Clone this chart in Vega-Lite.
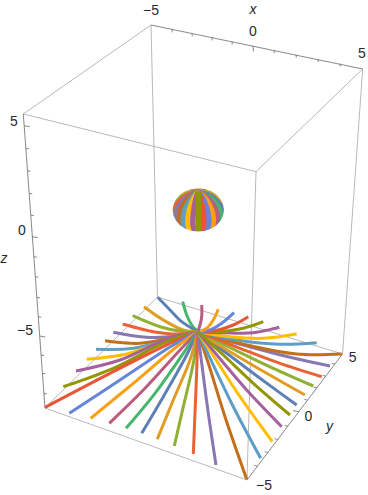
{
"$schema":"https://vega.github.io/schema/vega-lite/v6.json",
"width":368,"height":495,"padding":0,
"autosize":{"type":"fit","contains":"padding"},
"background":"white",
"view":{"stroke":null},
"datasets":{
"edges":[
{"h":151,"v":25,"h2":23.3,"v2":114},
{"h":23.3,"v":114,"h2":256,"v2":171.7},
{"h":256,"v":171.7,"h2":362.7,"v2":69},
{"h":151,"v":25,"h2":157.5,"v2":297},
{"h":362.7,"v":69,"h2":342.5,"v2":354},
{"h":256,"v":171.7,"h2":247,"v2":480},
{"h":45,"v":408,"h2":247,"v2":480},
{"h":342.5,"v":354,"h2":157.5,"v2":297},
{"h":157.5,"v":297,"h2":45,"v2":408}],
"axes":[
{"h":151,"v":25,"h2":362.7,"v2":69},
{"h":23.3,"v":114,"h2":45,"v2":408},
{"h":247,"v":480,"h2":342.5,"v2":354},
{"h":172,"v":29.3,"h2":172.3,"v2":32.3},
{"h":192,"v":33.4,"h2":192.3,"v2":36.4},
{"h":212,"v":37.4,"h2":212.3,"v2":40.4},
{"h":232,"v":41.5,"h2":232.3,"v2":44.5},
{"h":253,"v":45.8,"h2":253.5,"v2":51.5},
{"h":274,"v":50.1,"h2":274.3,"v2":53.1},
{"h":296,"v":54.6,"h2":296.3,"v2":57.6},
{"h":318,"v":59,"h2":318.3,"v2":62},
{"h":340,"v":63.5,"h2":340.3,"v2":66.5},
{"h":24.2,"v":125.7,"h2":29.7,"v2":126.7},
{"h":25.9,"v":148.3,"h2":28.9,"v2":148.9},
{"h":27.5,"v":170.7,"h2":30.5,"v2":171.3},
{"h":29.2,"v":193.3,"h2":32.2,"v2":193.9},
{"h":30.8,"v":215,"h2":33.8,"v2":215.6},
{"h":32.4,"v":236.7,"h2":37.9,"v2":237.7},
{"h":33.9,"v":256.7,"h2":36.9,"v2":257.3},
{"h":35.3,"v":276.7,"h2":38.3,"v2":277.3},
{"h":36.8,"v":297.3,"h2":39.8,"v2":297.9},
{"h":38.3,"v":316.7,"h2":41.3,"v2":317.3},
{"h":39.7,"v":336,"h2":45.2,"v2":337},
{"h":41.1,"v":355,"h2":44.1,"v2":355.6},
{"h":42.4,"v":373.3,"h2":45.4,"v2":373.9},
{"h":43.9,"v":393.3,"h2":46.9,"v2":393.9},
{"h":257.3,"v":466,"h2":254.3,"v2":465.5},
{"h":267.7,"v":452.3,"h2":264.7,"v2":451.8},
{"h":277.6,"v":439.3,"h2":274.6,"v2":438.8},
{"h":287.7,"v":426,"h2":284.7,"v2":425.5},
{"h":298.5,"v":411.7,"h2":293,"v2":410.7},
{"h":307.4,"v":400,"h2":304.4,"v2":399.5},
{"h":316.7,"v":387.7,"h2":313.7,"v2":387.2},
{"h":325.6,"v":376,"h2":322.6,"v2":375.5},
{"h":334.7,"v":364,"h2":331.7,"v2":363.5}],
"rays":[
{"i":1,"o":0,"h":197.7,"v":331.7},{"i":1,"o":1,"h":226.7,"v":353.3},{"i":1,"o":2,"h":260,"v":378.3},{"i":1,"o":3,"h":296.7,"v":405},
{"i":2,"o":0,"h":197.7,"v":331.7},{"i":2,"o":1,"h":230,"v":351.7},{"i":2,"o":2,"h":266.7,"v":373.3},{"i":2,"o":3,"h":305,"v":395},
{"i":3,"o":0,"h":197.7,"v":331.7},{"i":3,"o":1,"h":235,"v":350},{"i":3,"o":2,"h":273.3,"v":368.3},{"i":3,"o":3,"h":313.3,"v":386},
{"i":4,"o":0,"h":197.7,"v":331.7},{"i":4,"o":1,"h":240,"v":348.3},{"i":4,"o":2,"h":280,"v":363.3},{"i":4,"o":3,"h":321.7,"v":376.7},
{"i":5,"o":0,"h":197.7,"v":331.7},{"i":5,"o":1,"h":243.3,"v":345},{"i":5,"o":2,"h":290,"v":357.3},{"i":5,"o":3,"h":330,"v":366},
{"i":6,"o":0,"h":197.7,"v":331.7},{"i":6,"o":1,"h":246.7,"v":345},{"i":6,"o":2,"h":296.7,"v":354},{"i":6,"o":3,"h":341.7,"v":354},
{"i":7,"o":0,"h":197.7,"v":331.7},{"i":7,"o":1,"h":236.7,"v":340},{"i":7,"o":2,"h":280,"v":344.3},{"i":7,"o":3,"h":316.7,"v":342.7},
{"i":8,"o":0,"h":197.7,"v":331.7},{"i":8,"o":1,"h":230,"v":336.7},{"i":8,"o":2,"h":263.3,"v":338.3},{"i":8,"o":3,"h":296.7,"v":334},
{"i":9,"o":0,"h":197.7,"v":331.7},{"i":9,"o":1,"h":223.3,"v":332.7},{"i":9,"o":2,"h":253.3,"v":332.7},{"i":9,"o":3,"h":279.3,"v":327.3},
{"i":10,"o":0,"h":197.7,"v":331.7},{"i":10,"o":1,"h":220,"v":331.7},{"i":10,"o":2,"h":243.3,"v":328.3},{"i":10,"o":3,"h":263.3,"v":321.7},
{"i":11,"o":0,"h":197.7,"v":331.7},{"i":11,"o":1,"h":215,"v":330.7},{"i":11,"o":2,"h":233.3,"v":325},{"i":11,"o":3,"h":248.3,"v":316.7},
{"i":12,"o":0,"h":197.7,"v":331.7},{"i":12,"o":1,"h":210,"v":330},{"i":12,"o":2,"h":221.7,"v":323.3},{"i":12,"o":3,"h":234,"v":312.7},
{"i":13,"o":0,"h":197.7,"v":331.7},{"i":13,"o":1,"h":206.7,"v":328.3},{"i":13,"o":2,"h":213.3,"v":320},{"i":13,"o":3,"h":218.3,"v":309.3},
{"i":14,"o":0,"h":197.7,"v":331.7},{"i":14,"o":1,"h":200,"v":325},{"i":14,"o":2,"h":201.7,"v":316.7},{"i":14,"o":3,"h":201.7,"v":305},
{"i":15,"o":0,"h":197.7,"v":331.7},{"i":15,"o":1,"h":191.7,"v":325},{"i":15,"o":2,"h":186.7,"v":315},{"i":15,"o":3,"h":182.7,"v":301.7},
{"i":16,"o":0,"h":197.7,"v":331.7},{"i":16,"o":1,"h":181.7,"v":321.7},{"i":16,"o":2,"h":170,"v":310},{"i":16,"o":3,"h":157.7,"v":297.3},
{"i":17,"o":0,"h":197.7,"v":331.7},{"i":17,"o":1,"h":183.3,"v":330},{"i":17,"o":2,"h":163.3,"v":320},{"i":17,"o":3,"h":144,"v":306.7},
{"i":18,"o":0,"h":197.7,"v":331.7},{"i":18,"o":1,"h":183.3,"v":331.7},{"i":18,"o":2,"h":160,"v":326.7},{"i":18,"o":3,"h":132.7,"v":315.7},
{"i":19,"o":0,"h":197.7,"v":331.7},{"i":19,"o":1,"h":180,"v":334},{"i":19,"o":2,"h":153.3,"v":331.7},{"i":19,"o":3,"h":122.7,"v":324},
{"i":20,"o":0,"h":197.7,"v":331.7},{"i":20,"o":1,"h":176.7,"v":336},{"i":20,"o":2,"h":146.7,"v":337.3},{"i":20,"o":3,"h":113.3,"v":332.3},
{"i":21,"o":0,"h":197.7,"v":331.7},{"i":21,"o":1,"h":173.3,"v":337.3},{"i":21,"o":2,"h":140,"v":343.3},{"i":21,"o":3,"h":105,"v":340.7},
{"i":22,"o":0,"h":197.7,"v":331.7},{"i":22,"o":1,"h":170,"v":339.3},{"i":22,"o":2,"h":133.3,"v":348.3},{"i":22,"o":3,"h":96,"v":349.3},
{"i":23,"o":0,"h":197.7,"v":331.7},{"i":23,"o":1,"h":166.7,"v":340},{"i":23,"o":2,"h":126.7,"v":354},{"i":23,"o":3,"h":86.7,"v":359.3},
{"i":24,"o":0,"h":197.7,"v":331.7},{"i":24,"o":1,"h":165,"v":340},{"i":24,"o":2,"h":120,"v":360},{"i":24,"o":3,"h":76,"v":371},
{"i":25,"o":0,"h":197.7,"v":331.7},{"i":25,"o":1,"h":166.7,"v":341.7},{"i":25,"o":2,"h":113.3,"v":368.3},{"i":25,"o":3,"h":63.3,"v":386.7},
{"i":26,"o":0,"h":197.7,"v":331.7},{"i":26,"o":1,"h":170,"v":343.3},{"i":26,"o":2,"h":110,"v":373.3},{"i":26,"o":3,"h":45,"v":407.3},
{"i":27,"o":0,"h":197.7,"v":331.7},{"i":27,"o":1,"h":173.3,"v":345},{"i":27,"o":2,"h":120,"v":380},{"i":27,"o":3,"h":69.3,"v":413.3},
{"i":28,"o":0,"h":197.7,"v":331.7},{"i":28,"o":1,"h":176.7,"v":346.7},{"i":28,"o":2,"h":133.3,"v":383.3},{"i":28,"o":3,"h":90.7,"v":418.3},
{"i":29,"o":0,"h":197.7,"v":331.7},{"i":29,"o":1,"h":180,"v":350},{"i":29,"o":2,"h":145,"v":388.3},{"i":29,"o":3,"h":109.3,"v":423.3},
{"i":30,"o":0,"h":197.7,"v":331.7},{"i":30,"o":1,"h":183.3,"v":353.3},{"i":30,"o":2,"h":155,"v":393.3},{"i":30,"o":3,"h":126,"v":428.3},
{"i":31,"o":0,"h":197.7,"v":331.7},{"i":31,"o":1,"h":186.7,"v":355},{"i":31,"o":2,"h":163.3,"v":396.7},{"i":31,"o":3,"h":141.7,"v":433.3},
{"i":32,"o":0,"h":197.7,"v":331.7},{"i":32,"o":1,"h":190,"v":360},{"i":32,"o":2,"h":173.3,"v":400},{"i":32,"o":3,"h":157.3,"v":439.3},
{"i":33,"o":0,"h":197.7,"v":331.7},{"i":33,"o":1,"h":193.3,"v":363.3},{"i":33,"o":2,"h":183.3,"v":406.7},{"i":33,"o":3,"h":174.3,"v":446},
{"i":34,"o":0,"h":197.7,"v":331.7},{"i":34,"o":1,"h":196.7,"v":370},{"i":34,"o":2,"h":195,"v":413.3},{"i":34,"o":3,"h":193.3,"v":454},
{"i":35,"o":0,"h":197.7,"v":331.7},{"i":35,"o":1,"h":201.7,"v":363.3},{"i":35,"o":2,"h":208.3,"v":413.3},{"i":35,"o":3,"h":216,"v":465},
{"i":36,"o":0,"h":197.7,"v":331.7},{"i":36,"o":1,"h":208.3,"v":363.3},{"i":36,"o":2,"h":225,"v":416.7},{"i":36,"o":3,"h":246.7,"v":479.3},
{"i":37,"o":0,"h":197.7,"v":331.7},{"i":37,"o":1,"h":211.7,"v":361.7},{"i":37,"o":2,"h":233.3,"v":406.7},{"i":37,"o":3,"h":260.7,"v":458.3},
{"i":38,"o":0,"h":197.7,"v":331.7},{"i":38,"o":1,"h":215,"v":358.3},{"i":38,"o":2,"h":240,"v":396.7},{"i":38,"o":3,"h":272.3,"v":441.7},
{"i":39,"o":0,"h":197.7,"v":331.7},{"i":39,"o":1,"h":218.3,"v":356.7},{"i":39,"o":2,"h":246.7,"v":390},{"i":39,"o":3,"h":281.7,"v":426.7},
{"i":40,"o":0,"h":197.7,"v":331.7},{"i":40,"o":1,"h":223.3,"v":355},{"i":40,"o":2,"h":253.3,"v":383.3},{"i":40,"o":3,"h":290,"v":415}
],
"sphere":[
{"i":130,"o":0,"h":198.3,"v":192},{"i":130,"o":1,"h":198.3,"v":188.3},
{"i":101,"o":0,"h":198.3,"v":192},{"i":101,"o":1,"h":195.3,"v":188.4},
{"i":129,"o":0,"h":198.3,"v":192},{"i":129,"o":1,"h":201.3,"v":188.4},
{"i":102,"o":0,"h":198.3,"v":192},{"i":102,"o":1,"h":192.1,"v":188.9},
{"i":128,"o":0,"h":198.3,"v":192},{"i":128,"o":1,"h":204.5,"v":188.9},
{"i":103,"o":0,"h":198.3,"v":192},{"i":103,"o":1,"h":191.9,"v":189.6},{"i":103,"o":2,"h":188.6,"v":189.9},
{"i":127,"o":0,"h":198.3,"v":192},{"i":127,"o":1,"h":204.7,"v":189.6},{"i":127,"o":2,"h":208,"v":189.9},
{"i":104,"o":0,"h":198.3,"v":192},{"i":104,"o":1,"h":190.2,"v":190.3},{"i":104,"o":2,"h":184.7,"v":191.5},
{"i":126,"o":0,"h":198.3,"v":192},{"i":126,"o":1,"h":206.4,"v":190.3},{"i":126,"o":2,"h":212,"v":191.5},
{"i":105,"o":0,"h":198.3,"v":192},{"i":105,"o":1,"h":188.9,"v":191.2},{"i":105,"o":2,"h":180.4,"v":194.4},
{"i":125,"o":0,"h":198.3,"v":192},{"i":125,"o":1,"h":207.7,"v":191.2},{"i":125,"o":2,"h":216.2,"v":194.4},
{"i":106,"o":0,"h":198.3,"v":192},{"i":106,"o":1,"h":187.9,"v":192.1},{"i":106,"o":2,"h":179.6,"v":195.5},{"i":106,"o":3,"h":176.1,"v":199.1},
{"i":124,"o":0,"h":198.3,"v":192},{"i":124,"o":1,"h":208.7,"v":192.1},{"i":124,"o":2,"h":217,"v":195.5},{"i":124,"o":3,"h":220.5,"v":199.1},
{"i":107,"o":0,"h":198.3,"v":192},{"i":107,"o":1,"h":187.5,"v":193.2},{"i":107,"o":2,"h":178.7,"v":197.4},{"i":107,"o":3,"h":173,"v":206},
{"i":123,"o":0,"h":198.3,"v":192},{"i":123,"o":1,"h":209.1,"v":193.2},{"i":123,"o":2,"h":217.9,"v":197.4},{"i":123,"o":3,"h":223.6,"v":206},
{"i":108,"o":0,"h":198.3,"v":192},{"i":108,"o":1,"h":187.5,"v":194.2},{"i":108,"o":2,"h":178.7,"v":199.4},{"i":108,"o":3,"h":173.6,"v":206.5},{"i":108,"o":4,"h":173,"v":214},
{"i":122,"o":0,"h":198.3,"v":192},{"i":122,"o":1,"h":209.1,"v":194.2},{"i":122,"o":2,"h":217.9,"v":199.4},{"i":122,"o":3,"h":223,"v":206.5},{"i":122,"o":4,"h":223.6,"v":214},
{"i":109,"o":0,"h":198.3,"v":192},{"i":109,"o":1,"h":187.9,"v":195.3},{"i":109,"o":2,"h":179.6,"v":201.3},{"i":109,"o":3,"h":174.7,"v":208.9},{"i":109,"o":4,"h":174.7,"v":218.3},{"i":109,"o":5,"h":176.1,"v":220.9},
{"i":121,"o":0,"h":198.3,"v":192},{"i":121,"o":1,"h":208.7,"v":195.3},{"i":121,"o":2,"h":217,"v":201.3},{"i":121,"o":3,"h":221.9,"v":208.9},{"i":121,"o":4,"h":221.9,"v":218.3},{"i":121,"o":5,"h":220.5,"v":220.9},
{"i":110,"o":0,"h":198.3,"v":192},{"i":110,"o":1,"h":188.9,"v":196.3},{"i":110,"o":2,"h":181.2,"v":203.1},{"i":110,"o":3,"h":176.8,"v":211.2},{"i":110,"o":4,"h":176.8,"v":220.6},{"i":110,"o":5,"h":180.4,"v":225.6},
{"i":120,"o":0,"h":198.3,"v":192},{"i":120,"o":1,"h":207.7,"v":196.3},{"i":120,"o":2,"h":215.4,"v":203.1},{"i":120,"o":3,"h":219.8,"v":211.2},{"i":120,"o":4,"h":219.8,"v":220.6},{"i":120,"o":5,"h":216.2,"v":225.6},
{"i":111,"o":0,"h":198.3,"v":192},{"i":111,"o":1,"h":190.2,"v":197.1},{"i":111,"o":2,"h":183.7,"v":204.6},{"i":111,"o":3,"h":179.9,"v":213.1},{"i":111,"o":4,"h":179.9,"v":222.5},{"i":111,"o":5,"h":184.7,"v":228.5},
{"i":119,"o":0,"h":198.3,"v":192},{"i":119,"o":1,"h":206.4,"v":197.1},{"i":119,"o":2,"h":212.9,"v":204.6},{"i":119,"o":3,"h":216.7,"v":213.1},{"i":119,"o":4,"h":216.7,"v":222.5},{"i":119,"o":5,"h":212,"v":228.5},
{"i":112,"o":0,"h":198.3,"v":192},{"i":112,"o":1,"h":191.9,"v":197.8},{"i":112,"o":2,"h":186.7,"v":205.9},{"i":112,"o":3,"h":183.7,"v":214.8},{"i":112,"o":4,"h":183.7,"v":224.2},{"i":112,"o":5,"h":186.7,"v":229.1},{"i":112,"o":6,"h":188.6,"v":230.1},
{"i":118,"o":0,"h":198.3,"v":192},{"i":118,"o":1,"h":204.7,"v":197.8},{"i":118,"o":2,"h":209.9,"v":205.9},{"i":118,"o":3,"h":212.9,"v":214.8},{"i":118,"o":4,"h":212.9,"v":224.2},{"i":118,"o":5,"h":209.9,"v":229.1},{"i":118,"o":6,"h":208,"v":230.1},
{"i":113,"o":0,"h":198.3,"v":192},{"i":113,"o":1,"h":193.9,"v":198.4},{"i":113,"o":2,"h":190.3,"v":206.9},{"i":113,"o":3,"h":188.2,"v":216},{"i":113,"o":4,"h":188.2,"v":225.4},{"i":113,"o":5,"h":190.3,"v":230.1},{"i":113,"o":6,"h":192.1,"v":231.1},
{"i":117,"o":0,"h":198.3,"v":192},{"i":117,"o":1,"h":202.7,"v":198.4},{"i":117,"o":2,"h":206.3,"v":206.9},{"i":117,"o":3,"h":208.4,"v":216},{"i":117,"o":4,"h":208.4,"v":225.4},{"i":117,"o":5,"h":206.3,"v":230.1},{"i":117,"o":6,"h":204.5,"v":231.1},
{"i":114,"o":0,"h":198.3,"v":192},{"i":114,"o":1,"h":196,"v":198.7},{"i":114,"o":2,"h":194.2,"v":207.5},{"i":114,"o":3,"h":193.1,"v":216.7},{"i":114,"o":4,"h":193.1,"v":226.1},{"i":114,"o":5,"h":195.3,"v":231.6},
{"i":116,"o":0,"h":198.3,"v":192},{"i":116,"o":1,"h":200.6,"v":198.7},{"i":116,"o":2,"h":202.4,"v":207.5},{"i":116,"o":3,"h":203.5,"v":216.7},{"i":116,"o":4,"h":203.5,"v":226.1},{"i":116,"o":5,"h":201.3,"v":231.6},
{"i":115,"o":0,"h":198.3,"v":192},{"i":115,"o":1,"h":198.3,"v":198.8},{"i":115,"o":2,"h":198.3,"v":207.7},{"i":115,"o":3,"h":198.3,"v":217},{"i":115,"o":4,"h":198.3,"v":226.4},{"i":115,"o":5,"h":198.3,"v":231.7}
],
"rim":[
{"o":0,"h":227.5,"v":210},{"o":1,"h":226.5,"v":216.5},{"o":2,"h":223.6,"v":222.6},{"o":3,"h":218.9,"v":227.8},{"o":4,"h":212.9,"v":231.8},{"o":5,"h":205.9,"v":234.3},{"o":6,"h":198.3,"v":235.2},{"o":7,"h":190.7,"v":234.3},{"o":8,"h":183.7,"v":231.8},{"o":9,"h":177.7,"v":227.8},{"o":10,"h":173,"v":222.6},{"o":11,"h":170.1,"v":216.5},{"o":12,"h":169.1,"v":210},{"o":13,"h":170.1,"v":203.5},{"o":14,"h":173,"v":197.4},{"o":15,"h":177.7,"v":192.2},{"o":16,"h":183.7,"v":188.2},{"o":17,"h":190.7,"v":185.7},{"o":18,"h":198.3,"v":184.8},{"o":19,"h":205.9,"v":185.7},{"o":20,"h":212.9,"v":188.2},{"o":21,"h":218.9,"v":192.2},{"o":22,"h":223.6,"v":197.4},{"o":23,"h":226.5,"v":203.5},{"o":24,"h":227.5,"v":210}],
"labels":[
{"t":"−5","h":151,"v":11},{"t":"0","h":253,"v":32},{"t":"5","h":362,"v":54},
{"t":"5","h":14,"v":121.5},{"t":"0","h":22,"v":231},{"t":"−5","h":25,"v":331},
{"t":"5","h":352.7,"v":358.3},{"t":"0","h":308.3,"v":417.3},{"t":"−5","h":264,"v":485.7}],
"titles":[{"t":"x","h":253,"v":9.5},{"t":"y","h":329.5,"v":426.5},{"t":"z","h":4,"v":258.5}]
},
"encoding":{
"x":{"field":"h","type":"quantitative","axis":null,"scale":{"domain":[0,368],"nice":false,"zero":false}},
"y":{"field":"v","type":"quantitative","axis":null,"scale":{"domain":[495,0],"nice":false,"zero":false}}
},
"layer":[
{"data":{"name":"edges"},"mark":{"type":"rule","stroke":"#a6a6a6","strokeWidth":0.8},"encoding":{"x2":{"field":"h2"},"y2":{"field":"v2"}}},
{"data":{"name":"axes"},"mark":{"type":"rule","stroke":"#6a6a6a","strokeWidth":0.8},"encoding":{"x2":{"field":"h2"},"y2":{"field":"v2"}}},
{"data":{"name":"rays"},"mark":{"type":"line","strokeWidth":3,"interpolate":"catmull-rom"},
 "encoding":{"order":{"field":"o","type":"quantitative"},"color":{"field":"i","type":"nominal","legend":null,"scale":{"range":["#5E81B5","#E19C24","#8FB032","#EB6235","#8778B3","#C56E1A","#5D9EC7","#FFBF00","#A5609D","#929600","#E95536","#6685D9","#F89F13","#BC5B80","#47B66D"]}}}},
{"data":{"name":"sphere"},"mark":{"type":"line","strokeWidth":5.5,"interpolate":"catmull-rom"},
 "encoding":{"order":{"field":"o","type":"quantitative"},"color":{"field":"i","type":"nominal","legend":null}}},
{"data":{"name":"rim"},"mark":{"type":"line","stroke":"white","strokeWidth":7},"encoding":{"order":{"field":"o","type":"quantitative"}}},
{"data":{"name":"labels"},"mark":{"type":"text","font":"Liberation Sans","fontSize":14,"fill":"#2a2a2a","align":"center","baseline":"middle"},"encoding":{"text":{"field":"t"}}},
{"data":{"name":"titles"},"mark":{"type":"text","font":"Liberation Sans","fontSize":14,"fontStyle":"italic","fill":"#2a2a2a","align":"center","baseline":"middle"},"encoding":{"text":{"field":"t"}}}
]
}
